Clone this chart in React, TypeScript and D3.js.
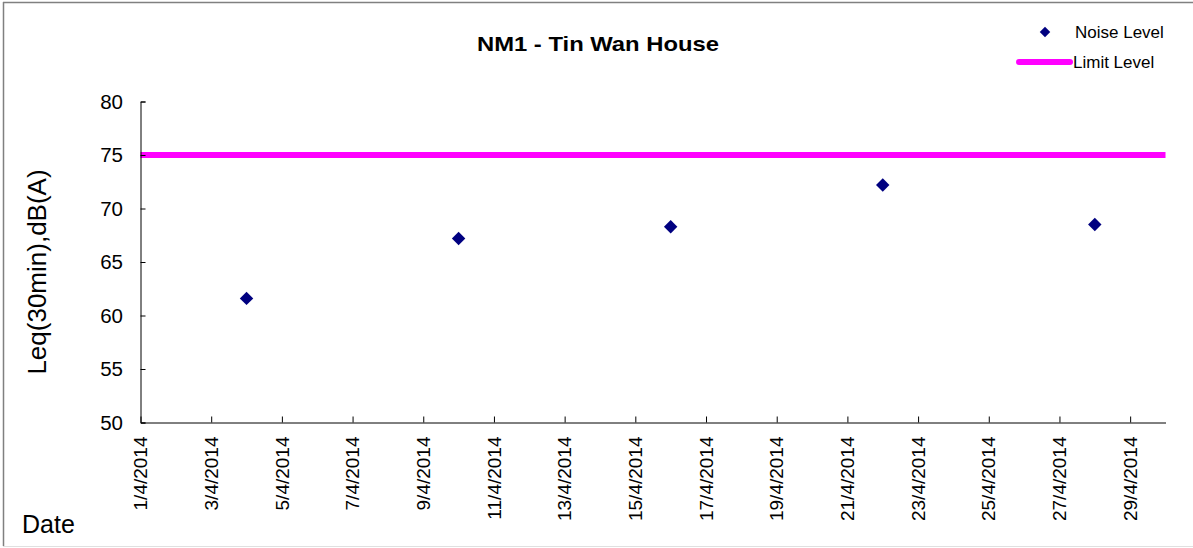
import { useRef, useEffect } from 'react';
import * as d3 from 'd3';

// monitoring dates and measured Leq(30min) values
const noiseDates = ['2014-04-04', '2014-04-10', '2014-04-16', '2014-04-22', '2014-04-28'];
const noiseLevels = [61.6, 67.2, 68.3, 72.2, 68.5];
const limitLevel = 75;
const yTicks = [50, 55, 60, 65, 70, 75, 80];
const xStart = '2014-04-01';
const xEnd = '2014-04-30';

const W = 1193;
const H = 548;

const App = () => {
  const ref = useRef(null);

  useEffect(() => {
    const svg = d3.select(ref.current);
    svg.selectAll('*').remove();

    const font = '"Liberation Sans", Arial, sans-serif';
    const left = 140.5;
    const right = 1165.5;
    const top = 101.5;
    const bottom = 422.5;

    const x = d3
      .scaleUtc()
      .domain([new Date(xStart), new Date(xEnd)])
      .range([left, right]);
    const y = d3.scaleLinear().domain([50, 80]).range([bottom, top]);

    // frame
    svg.append('line').attr('x1', 3.5).attr('x2', 3.5).attr('y1', 2).attr('y2', 546)
      .attr('stroke', '#808080').attr('stroke-width', 1.5);
    svg.append('line').attr('x1', 3).attr('x2', W).attr('y1', 2.5).attr('y2', 2.5)
      .attr('stroke', '#808080').attr('stroke-width', 1.5);
    svg.append('line').attr('x1', 3).attr('x2', W).attr('y1', 546.5).attr('y2', 546.5)
      .attr('stroke', '#e0e0e0').attr('stroke-width', 1);

    svg.append('text')
      .attr('x', 598).attr('y', 51)
      .attr('text-anchor', 'middle')
      .attr('textLength', 242).attr('lengthAdjust', 'spacingAndGlyphs')
      .style('font-family', font).style('font-weight', 'bold').style('font-size', '21px')
      .text('NM1 - Tin Wan House');

    // limit line
    svg.append('line')
      .attr('x1', left).attr('x2', right)
      .attr('y1', y(limitLevel)).attr('y2', y(limitLevel))
      .attr('stroke', '#ff00ff').attr('stroke-width', 6);

    // y axis
    const yAxis = svg.append('g').attr('transform', `translate(${left},0)`)
      .call(d3.axisRight(y).tickValues(yTicks).tickSize(5).tickFormat(() => ''));
    yAxis.select('.domain').attr('stroke', '#000');
    yAxis.selectAll('.tick line').attr('stroke', '#000');

    svg.append('g').selectAll('text').data(yTicks).enter().append('text')
      .attr('x', 123).attr('y', d => y(d)).attr('dy', '0.35em')
      .attr('text-anchor', 'end')
      .style('font-family', font).style('font-size', '20.5px')
      .text(d => d);

    // x axis
    const xTicks = d3.utcDay.range(new Date(xStart), new Date(xEnd), 2);
    const fmt = d3.utcFormat('%-d/%-m/%Y');
    const xAxis = svg.append('g').attr('transform', `translate(0,${bottom})`)
      .call(d3.axisTop(x).tickValues(xTicks).tickSize(6).tickFormat(() => '').tickSizeOuter(0));
    xAxis.select('.domain').attr('stroke', '#000');
    xAxis.selectAll('.tick line').attr('stroke', '#000');

    svg.append('g').selectAll('text').data(xTicks).enter().append('text')
      .attr('transform', d => `translate(${x(d)},${bottom + 14}) rotate(-90)`)
      .attr('dy', '0.35em')
      .attr('text-anchor', 'end')
      .style('font-family', font).style('font-size', '19px')
      .text(d => fmt(d));

    // noise points
    const diamond = d3.symbol().type(d3.symbolDiamond2).size(115);
    svg.append('g').selectAll('path').data(noiseDates).enter().append('path')
      .attr('d', diamond)
      .attr('transform', (d, i) => `translate(${x(new Date(d))},${y(noiseLevels[i])})`)
      .attr('fill', '#000080');

    // axis titles
    svg.append('text')
      .attr('transform', `translate(46,272) rotate(-90)`)
      .attr('text-anchor', 'middle')
      .style('font-family', font).style('font-size', '26px')
      .text('Leq(30min),dB(A)');
    svg.append('text')
      .attr('x', 22).attr('y', 533)
      .style('font-family', font).style('font-size', '25px')
      .text('Date');

    // legend
    const legend = svg.append('g');
    legend.append('path').attr('d', d3.symbol().type(d3.symbolDiamond2).size(70))
      .attr('transform', 'translate(1045,32)').attr('fill', '#000080');
    legend.append('text').attr('x', 1075).attr('y', 32).attr('dy', '0.35em')
      .style('font-family', font).style('font-size', '17px').text('Noise Level');
    legend.append('line').attr('x1', 1019).attr('x2', 1070).attr('y1', 62).attr('y2', 62)
      .attr('stroke', '#ff00ff').attr('stroke-width', 6).attr('stroke-linecap', 'round');
    legend.append('text').attr('x', 1073).attr('y', 62).attr('dy', '0.35em')
      .style('font-family', font).style('font-size', '17px').text('Limit Level');
  }, []);

  return (
    <svg
      ref={ref}
      width={W}
      height={H}
      style={{ position: 'absolute', left: 0, top: 0, background: '#fff' }}
    />
  );
};

export default App;
